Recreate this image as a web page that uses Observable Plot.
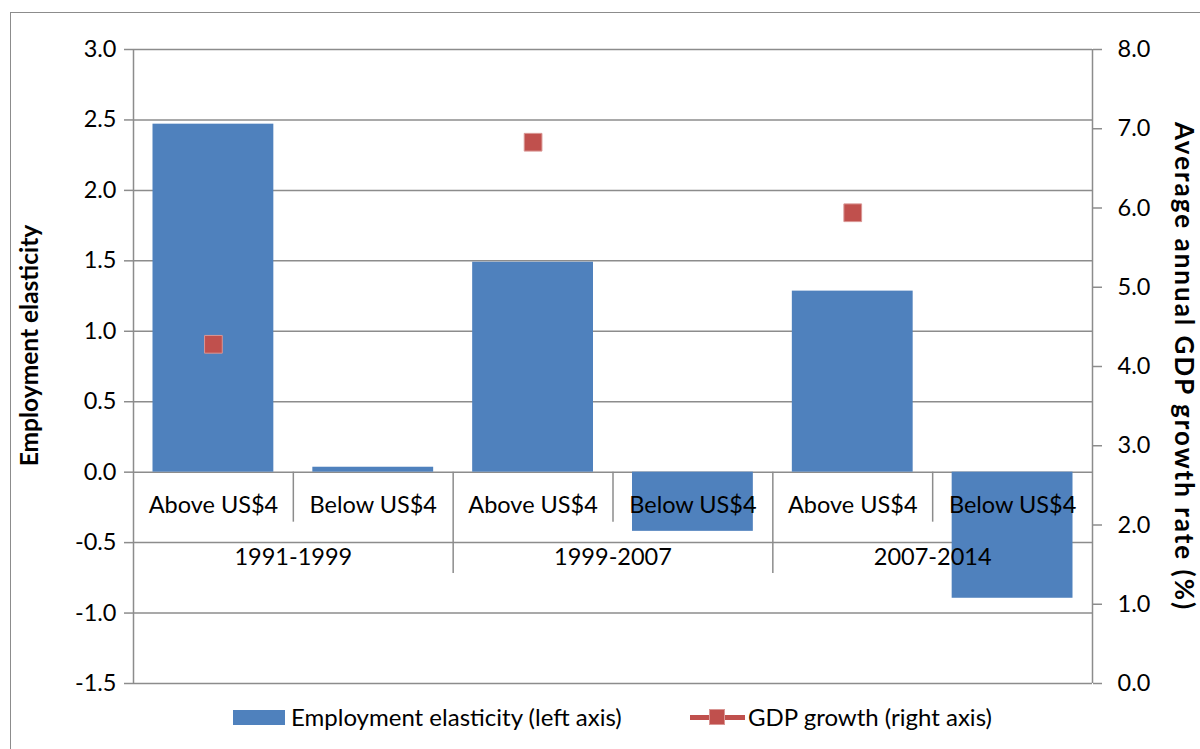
<!DOCTYPE html>
<html>
<head>
<meta charset="utf-8">
<script src="https://cdn.jsdelivr.net/npm/d3@7"></script>
<script src="https://cdn.jsdelivr.net/npm/@observablehq/plot@0.6"></script>
<style>
  body { margin: 0; background: #fff; font-family: Lato, "Open Sans", sans-serif; }
  #wrap { position: relative; width: 1200px; height: 749px; overflow: hidden; }
  #border { position: absolute; left: 10px; top: 12px; width: 1300px; height: 900px;
            border: 1.5px solid #8c8c8c; pointer-events: none; }
  #chart svg { display: block; }
  #legend { position: relative; height: 54px; font-size: 24px; color: #000; }
  #legend .sw { position: absolute; }
  #legend .lbl { position: absolute; top: 8px; line-height: 28px; white-space: nowrap; }
</style>
</head>
<body>
<div id="wrap">
  <div id="border"></div>
  <div id="chart"></div>
  <div id="legend">
    <div class="sw" style="left:233px;top:15px;width:52px;height:15px;background:#4F81BD"></div>
    <div class="lbl" style="left:291px">Employment elasticity (left axis)</div>
    <div class="sw" style="left:690px;top:20px;width:55px;height:5px;background:#C0504D"></div>
    <div class="sw" style="left:709px;top:14px;width:16px;height:16px;background:#C0504D;box-sizing:border-box;border:1px solid #d99694"></div>
    <div class="lbl" style="left:748px">GDP growth (right axis)</div>
  </div>
</div>
<script>
// ---- data ----
const periods = ["1991-1999", "1999-2007", "2007-2014"];
const incomeGroups = ["Above US$4", "Below US$4"];
const elasticity = [2.47, 0.035, 1.49, -0.42, 1.285, -0.895]; // left axis
const gdpGrowth = [4.28, 6.83, 5.94];                          // right axis (%)
const leftTicks = [-1.5, -1.0, -0.5, 0, 0.5, 1.0, 1.5, 2.0, 2.5, 3.0];
const rightTicks = [0, 1, 2, 3, 4, 5, 6, 7, 8];
const leftTitle = "Employment elasticity";
const rightTitle = "Average annual GDP growth rate (%)";

// ---- derived tables ----
const leftDomain = [-1.5, 3];
const rightDomain = [0, 8];
const toLeft = g => leftDomain[0] + (g - rightDomain[0]) * (leftDomain[1] - leftDomain[0]) / (rightDomain[1] - rightDomain[0]);

const bars = [];
periods.forEach((p, pi) => incomeGroups.forEach((g, gi) => {
  const i = pi * incomeGroups.length + gi;
  bars.push({i, period: p, group: g, value: elasticity[i]});
}));
const groupRows = periods.map((p, pi) => ({pi, period: p, gdp: gdpGrowth[pi]}));
const n = bars.length;
const subDividers = groupRows.map(d => d.pi * 2 + 0.5);
const groupDividers = groupRows.slice(1).map(d => d.pi * 2 - 0.5);

const grid = "#8c8c8c";
const chart = Plot.plot({
  width: 1200,
  height: 695,
  marginLeft: 133,
  marginRight: 108,
  marginTop: 49,
  marginBottom: 12,
  style: {fontFamily: "Lato, 'Open Sans', sans-serif", fontSize: "23.5px", color: "#000", background: "transparent", overflow: "visible"},
  x: {domain: [-0.5, n - 0.5], axis: null},
  y: {domain: leftDomain, axis: null},
  marks: [
    Plot.ruleY(leftTicks, {stroke: grid, strokeWidth: 1.5}),
    Plot.rectY(bars, {x1: d => d.i - 0.378, x2: d => d.i + 0.378, y1: 0, y2: "value", fill: "#4F81BD"}),
    Plot.ruleX(subDividers, {x: d => d, y1: 0, y2: -0.355, stroke: grid, strokeWidth: 1.5}),
    Plot.ruleX(groupDividers, {x: d => d, y1: 0, y2: -0.72, stroke: grid, strokeWidth: 1.5}),
    Plot.ruleX([-0.5, n - 0.5], {x: d => d, y1: leftDomain[0], y2: leftDomain[1], stroke: grid, strokeWidth: 1.5}),
    Plot.axisY({anchor: "left", ticks: leftTicks, tickSize: 9, tickPadding: 8, tickFormat: d => d.toFixed(1),
      stroke: grid, strokeWidth: 1.5, label: null}),
    Plot.axisY({anchor: "right", ticks: rightTicks.map(toLeft), tickSize: 9, tickFormat: () => "",
      stroke: grid, strokeWidth: 1.5, label: null}),
    Plot.text(rightTicks, {frameAnchor: "right", y: d => toLeft(d), text: d => d.toFixed(1),
      dx: 25, textAnchor: "start", fill: "#000"}),
    Plot.text([leftTitle], {frameAnchor: "left", text: d => d, rotate: -90, dx: -103, dy: -21,
      textAnchor: "middle", fontSize: 24.5, fontWeight: "bold", fill: "#000"}),
    Plot.text([rightTitle], {frameAnchor: "right", text: d => d, rotate: 90, dx: 91, dy: 0,
      textAnchor: "middle", fontSize: 26, fontWeight: "bold", fill: "#000"}),
    Plot.text(bars, {x: "i", y: 0, text: "group", dy: 33, fill: "#000"}),
    Plot.text(groupRows, {x: d => d.pi * 2 + 0.5, y: 0, text: "period", dy: 85, fill: "#000"}),
    Plot.dot(groupRows, {x: d => d.pi * 2, y: d => toLeft(d.gdp), symbol: "square", r: 10, fill: "#C0504D", stroke: "#d99694", strokeWidth: 1})
  ]
});
d3.select(chart).selectAll("text")
  .filter(function () { return this.textContent === rightTitle; })
  .style("letter-spacing", "2px");
document.getElementById("chart").appendChild(chart);
</script>
</body>
</html>
